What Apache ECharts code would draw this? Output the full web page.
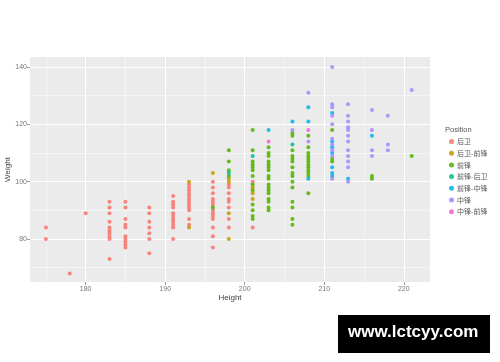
<!DOCTYPE html>
<html>
<head>
<meta charset="utf-8">
<script src="https://cdn.jsdelivr.net/npm/echarts@6/dist/echarts.min.js"></script>
<style>html,body{margin:0;padding:0;background:#fff}#c{width:500px;height:362px}</style>
</head>
<body>
<div id="c"></div>
<script>
// ---- data: [height, [weights...]] per position ----
const positions = ['后卫', '后卫-前锋', '前锋', '前锋-后卫', '前锋-中锋', '中锋', '中锋-前锋'];
const colors = ['#F8766D', '#C49A00', '#53B400', '#00C094', '#00B6EB', '#A58AFF', '#FB61D7'];

const guard = [
  [175, [84, 80]], [178, [68]], [180, [89]],
  [183, [93, 91, 89, 86, 84, 83, 82, 81, 80, 73]],
  [185, [93, 91, 87, 85, 84, 81, 80, 79, 78, 77]],
  [188, [91, 89, 86, 84, 82, 80, 75]],
  [191, [95, 93, 92, 91, 89, 88, 87, 86, 85, 84, 80]],
  [193, [99, 98, 97, 96, 95, 94, 93, 92, 91, 90, 87, 85]],
  [196, [100, 98, 96, 94, 93, 92, 90, 89, 88, 87, 84, 81, 77]],
  [198, [99, 98, 96, 94, 93, 91, 87, 84]],
  [201, [100, 84]]
];
const guardForward = [
  [193, [100, 84]], [196, [103]], [198, [101, 100, 89, 80]], [201, [98, 96, 94]]
];
const forward = [
  [196, [91]],
  [198, [111, 107, 104, 102]],
  [201, [118, 111, 107, 106, 105, 104, 102, 99, 97, 92, 90, 88, 87]],
  [203, [112, 110, 109, 107, 106, 105, 104, 102, 101, 99, 98, 97, 96, 94, 93, 91, 90]],
  [206, [117, 116, 111, 109, 108, 107, 105, 103, 102, 100, 98, 93, 91, 87, 85]],
  [208, [116, 112, 110, 109, 108, 107, 106, 105, 104, 103, 102, 96]],
  [211, [118, 108, 107]],
  [216, [102, 101]],
  [221, [109]]
];
const forwardGuard = [
  [198, [103]], [201, [109]], [206, [113]]
];
const forwardCenter = [
  [203, [118]], [206, [121]], [208, [126, 121, 101]],
  [211, [124, 114, 112, 110, 105, 103, 102]], [213, [101]], [216, [116]]
];
const center = [
  [206, [118]], [208, [131, 114]],
  [211, [140, 127, 126, 123, 120, 115, 113, 111, 109, 101]],
  [213, [127, 123, 121, 119, 118, 116, 114, 111, 109, 107, 105, 100]],
  [216, [125, 118, 111, 109]], [218, [123, 113, 111]], [221, [132]]
];
const centerForward = [
  [203, [114]], [208, [118]]
];
const groups = [guard, guardForward, forward, forwardGuard, forwardCenter, center, centerForward];

// ---- axis ticks ----
const xTicks = [180, 190, 200, 210, 220];
const xMinor = [175, 185, 195, 205, 215];
const yTicks = [80, 100, 120, 140];
const yMinor = [70, 90, 110, 130];

function flatten(g) {
  const out = [];
  g.forEach(([h, ws]) => ws.forEach(w => out.push([h, w])));
  return out;
}

const numFont = 'Liberation Sans, Arial, sans-serif';
const cjkFont = 'Noto Sans CJK SC, sans-serif';

const gridLines = [];
xTicks.forEach(v => gridLines.push({ xAxis: v, lineStyle: { width: 1.1 } }));
xMinor.forEach(v => gridLines.push({ xAxis: v, lineStyle: { width: 0.5 } }));
yTicks.forEach(v => gridLines.push({ yAxis: v, lineStyle: { width: 1.1 } }));
yMinor.forEach(v => gridLines.push({ yAxis: v, lineStyle: { width: 0.5 } }));

const series = [{
  name: '_grid', type: 'line', data: [], z: 1, silent: true,
  markLine: {
    silent: true, symbol: ['none', 'none'], z: 1, animation: false,
    label: { show: false },
    lineStyle: { color: '#ffffff', type: 'solid' },
    emphasis: { disabled: true },
    data: gridLines
  }
}];
positions.forEach((p, i) => {
  series.push({
    name: p, type: 'scatter', z: 3,
    symbolSize: 4,
    itemStyle: { color: colors[i], opacity: 0.88 },
    data: flatten(groups[i])
  });
});

const chart = echarts.init(document.getElementById('c'), null, { renderer: 'canvas' });
chart.setOption({
  animation: false,
  backgroundColor: '#ffffff',
  title: {
    text: 'Position', left: 440, top: 121,
    textStyle: { fontSize: 7.5, fontWeight: 'normal', color: '#555', fontFamily: numFont }
  },
  legend: {
    data: positions, orient: 'vertical', left: 444, top: 133,
    icon: 'circle', itemWidth: 5, itemHeight: 5, itemGap: 4.7,
    textStyle: { fontSize: 7, color: '#555', fontFamily: cjkFont, lineHeight: 7, padding: [0, 0, 0, -2] },
    selectedMode: false
  },
  grid: {
    left: 30, right: 70, top: 57, bottom: 80,
    show: true, backgroundColor: '#EBEBEB', borderWidth: 0,
    containLabel: false, outerBoundsMode: 'none'
  },
  xAxis: {
    type: 'value', min: 173, max: 223.3,
    name: 'Height', nameLocation: 'middle', nameGap: 12, nameMoveOverlap: false,
    nameTextStyle: { fontSize: 8, color: '#444', fontFamily: numFont },
    axisLine: { show: false },
    axisTick: { show: true, length: 3, lineStyle: { color: '#999' }, customValues: xTicks },
    axisLabel: { fontSize: 7, color: '#777', margin: 4, fontFamily: numFont, customValues: xTicks },
    splitLine: { show: false }
  },
  yAxis: {
    type: 'value', min: 65, max: 143.5,
    name: 'Weight', nameLocation: 'middle', nameGap: 18, nameRotate: 90, nameMoveOverlap: false,
    nameTextStyle: { fontSize: 8, color: '#444', fontFamily: numFont },
    axisLine: { show: false },
    axisTick: { show: true, length: 3, lineStyle: { color: '#999' }, customValues: yTicks },
    axisLabel: { fontSize: 7, color: '#777', margin: 3, fontFamily: numFont, customValues: yTicks },
    splitLine: { show: false }
  },
  graphic: [
    { type: 'rect', left: 338, top: 315, shape: { width: 152, height: 38 }, style: { fill: '#000' }, z: 10 },
    { type: 'text', left: 348, top: 324, z: 11,
      style: { text: 'www.lctcyy.com', fill: '#fff', font: 'bold 17px "Liberation Sans", Arial, sans-serif' } }
  ],
  series: series
});
</script>
</body>
</html>
